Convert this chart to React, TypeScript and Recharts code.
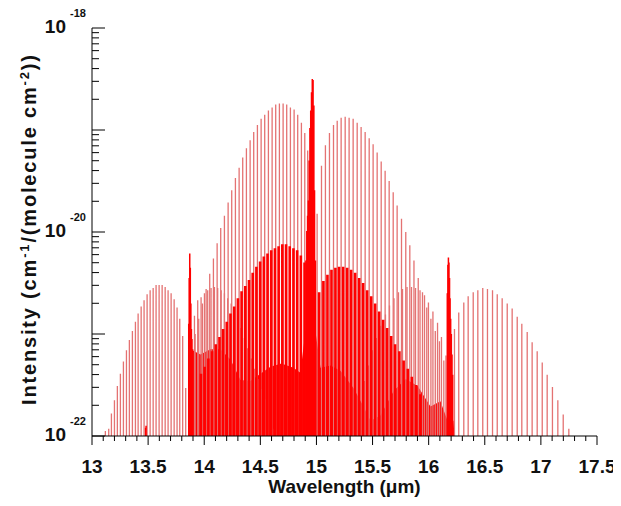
import React from 'react';
import { ComposedChart, Line, Area, XAxis, YAxis, Label } from 'recharts';

// every line is [wavelength in µm, log10 of intensity]
const mainR: [number, number][] = [
  [13.919, -21.0], [13.951, -20.85], [13.984, -20.7], [14.017, -20.56], [14.049, -20.41], [14.082, -20.26],
  [14.115, -20.11], [14.147, -19.96], [14.18, -19.84], [14.213, -19.71], [14.245, -19.59], [14.278, -19.47],
  [14.311, -19.37], [14.343, -19.27], [14.376, -19.18], [14.409, -19.1], [14.441, -19.02], [14.474, -18.95],
  [14.507, -18.89], [14.539, -18.85], [14.572, -18.81], [14.605, -18.78], [14.637, -18.75], [14.67, -18.74],
  [14.703, -18.74], [14.735, -18.75], [14.768, -18.78], [14.801, -18.8], [14.833, -18.85], [14.866, -18.93],
  [14.896, -19.03], [14.922, -19.2],
];

const mainQ: [number, number][] = [
  [14.906, -20.28], [14.914, -19.99], [14.921, -19.84], [14.928, -19.69], [14.935, -19.3], [14.942, -18.98],
  [14.949, -18.81], [14.956, -18.63], [14.963, -18.5], [14.97, -18.51], [14.977, -18.76], [14.983, -19.59],
  [14.991, -20.28],
];

const mainP: [number, number][] = [
  [15.006, -19.82], [15.045, -19.35], [15.08, -19.15], [15.116, -19.03], [15.152, -18.95], [15.185, -18.91],
  [15.22, -18.88], [15.256, -18.87], [15.291, -18.88], [15.327, -18.89], [15.363, -18.93], [15.398, -18.97],
  [15.434, -19.02], [15.47, -19.08], [15.505, -19.14], [15.541, -19.22], [15.577, -19.31], [15.612, -19.4],
  [15.648, -19.5], [15.684, -19.61], [15.719, -19.74], [15.758, -19.87], [15.796, -20.0], [15.832, -20.13],
  [15.869, -20.28], [15.907, -20.45], [15.945, -20.59], [15.983, -20.74], [16.02, -20.85], [16.059, -20.97],
  [16.096, -21.07], [16.135, -21.26],
];

const hot1R: [number, number][] = [
  [13.119, -21.95], [13.149, -21.93], [13.173, -21.78], [13.2, -21.65], [13.226, -21.51], [13.253, -21.39],
  [13.28, -21.27], [13.307, -21.16], [13.333, -21.06], [13.36, -20.97], [13.387, -20.88], [13.411, -20.8],
  [13.438, -20.73], [13.464, -20.67], [13.491, -20.61], [13.518, -20.57], [13.545, -20.55], [13.571, -20.52],
  [13.598, -20.52], [13.625, -20.52], [13.652, -20.54], [13.678, -20.57], [13.705, -20.6], [13.732, -20.66],
  [13.758, -20.74], [13.782, -20.85], [13.808, -21.02], [13.835, -21.53],
];

const hot1Q: [number, number][] = [
  [13.478, -21.92], [13.482, -21.9],
  [13.862, -20.9], [13.866, -20.45], [13.871, -20.21], [13.876, -20.35], [13.881, -20.7], [13.886, -20.95],
  [13.891, -21.05], [13.897, -21.15],
];

const hot1P: [number, number][] = [
  [13.913, -20.82], [13.942, -20.67], [13.972, -20.64], [14.002, -20.6], [14.031, -20.57], [14.061, -20.55],
  [14.091, -20.54], [14.12, -20.55], [14.151, -20.57], [14.18, -20.6], [14.209, -20.65], [14.24, -20.7],
  [14.269, -20.77], [14.299, -20.84], [14.329, -20.94], [14.358, -21.04], [14.388, -21.14], [14.418, -21.24],
  [14.447, -21.34], [14.477, -21.44], [14.507, -21.54], [14.537, -21.64], [14.566, -21.73], [14.596, -21.83],
  [14.626, -21.93],
];

const hot2R: [number, number][] = [
  [15.428, -21.46], [15.464, -21.31], [15.499, -21.16], [15.535, -21.04], [15.575, -20.92], [15.615, -20.81],
  [15.651, -20.72], [15.691, -20.65], [15.731, -20.59], [15.767, -20.56], [15.807, -20.54], [15.847, -20.54],
  [15.883, -20.55], [15.923, -20.57], [15.963, -20.62], [15.998, -20.69], [16.038, -20.78], [16.079, -20.89],
  [16.114, -21.03], [16.154, -21.21],
];

const hot2Q: [number, number][] = [
  [16.166, -20.6], [16.171, -20.32], [16.176, -20.25], [16.181, -20.3], [16.186, -20.45], [16.191, -20.65],
  [16.196, -20.85], [16.202, -21.0], [16.208, -21.2], [16.214, -21.4],
];

const hot2P: [number, number][] = [
  [16.23, -20.95], [16.268, -20.79], [16.313, -20.69], [16.352, -20.63], [16.397, -20.59], [16.438, -20.57],
  [16.482, -20.55], [16.524, -20.56], [16.569, -20.57], [16.611, -20.61], [16.655, -20.65], [16.7, -20.7],
  [16.744, -20.75], [16.789, -20.83], [16.83, -20.9], [16.878, -20.98], [16.922, -21.08], [16.967, -21.17],
  [17.012, -21.28], [17.056, -21.4], [17.103, -21.52], [17.151, -21.65], [17.199, -21.79], [17.249, -21.93],
];

const band3R: [number, number][] = [
  [13.971, -21.39], [14.004, -21.32], [14.037, -21.24], [14.07, -21.17], [14.103, -21.1], [14.136, -21.03],
  [14.168, -20.95], [14.201, -20.88], [14.234, -20.8], [14.267, -20.73], [14.3, -20.65], [14.333, -20.58],
  [14.366, -20.53], [14.399, -20.47], [14.432, -20.4], [14.465, -20.34], [14.498, -20.29], [14.531, -20.24],
  [14.564, -20.21], [14.597, -20.18], [14.63, -20.16], [14.663, -20.14], [14.696, -20.12], [14.729, -20.12],
  [14.762, -20.14], [14.795, -20.16], [14.828, -20.18], [14.861, -20.23], [14.894, -20.3],
];

const band3P: [number, number][] = [
  [15.024, -20.59], [15.062, -20.48], [15.098, -20.42], [15.134, -20.37], [15.169, -20.35], [15.202, -20.34],
  [15.238, -20.34], [15.274, -20.35], [15.309, -20.37], [15.345, -20.4], [15.381, -20.45], [15.416, -20.5],
  [15.452, -20.57], [15.488, -20.63], [15.523, -20.7], [15.559, -20.78], [15.594, -20.86], [15.63, -20.94],
  [15.666, -21.02], [15.701, -21.1], [15.739, -21.17], [15.777, -21.26], [15.814, -21.34], [15.85, -21.42],
  [15.889, -21.5], [15.926, -21.59],
];

// outline of the solid red block of weak, crowded lines
const denseCore: [number, number][] = [
  [13.886, -22.0], [13.895, -21.16], [13.966, -21.2], [14.055, -21.15], [14.144, -21.15], [14.234, -21.25],
  [14.323, -21.45], [14.412, -21.46], [14.501, -21.39], [14.59, -21.32], [14.688, -21.29], [14.795, -21.33],
  [14.857, -21.38], [14.902, -20.97], [14.991, -20.97], [15.036, -21.33], [15.125, -21.31], [15.214, -21.36],
  [15.33, -21.53], [15.419, -21.71], [15.482, -21.85], [15.571, -21.8], [15.688, -21.56], [15.795, -21.44],
  [15.902, -21.51], [16.016, -21.71], [16.105, -21.66], [16.168, -21.85], [16.221, -21.85], [16.23, -22.0],
];

const xMajorTicks = [13, 13.5, 14, 14.5, 15, 15.5, 16, 16.5, 17, 17.5];
const xMinorSteps = [0.1, 0.2, 0.3, 0.4];
const yDecades = [-22, -21, -20, -19];
const yMantissas = [1, 2, 3, 4, 5, 6, 7, 8, 9];
const yLabelled = [-18, -20, -22];

const BASE = 1e-23;
const FONT = 'Liberation Sans, Arial, Helvetica, sans-serif';
const PINK = '#e47272';
const RED = '#ff0000';

const xTicks = xMajorTicks.flatMap((m) => (m < 17.5 ? [m, ...xMinorSteps.map((s) => +(m + s).toFixed(1))] : [m]));
const yTicks = [...yDecades.flatMap((d) => yMantissas.map((m) => m * 10 ** d)), 1e-18];

const sticks = (lines: [number, number][]) =>
  lines.flatMap(([x, e]) => [
    { x, y: BASE },
    { x, y: 10 ** e },
    { x, y: BASE },
  ]);

const outline = (pts: [number, number][]) => pts.map(([x, e]) => ({ x, y: 10 ** e }));

const isMajorX = (v: number) => xMajorTicks.some((m) => Math.abs(m - v) < 1e-6);
const expOf = (v: number) => Math.log10(v);
const isDecade = (v: number) => Math.abs(expOf(v) - Math.round(expOf(v))) < 1e-6;

const BottomTick = ({ x, y, payload }: any) => {
  const major = isMajorX(payload.value);
  return (
    <g>
      <line x1={x} x2={x} y1={y} y2={y + (major ? 9 : 5)} stroke="#000" />
      {major && (
        <text x={x} y={y + 37} textAnchor="middle" fontFamily={FONT} fontWeight="bold" fontSize={19} fill="#111">
          {String(payload.value)}
        </text>
      )}
    </g>
  );
};

const TopTick = ({ x, y, payload }: any) => {
  const major = isMajorX(payload.value);
  return <line x1={x} x2={x} y1={y} y2={y + (major ? 9 : 5)} stroke="#000" />;
};

const LeftTick = ({ x, y, payload }: any) => {
  const major = isDecade(payload.value);
  const exp = Math.round(expOf(payload.value));
  const labelled = major && yLabelled.includes(exp);
  return (
    <g>
      <line x1={x} x2={x + (major ? 13 : 7)} y1={y} y2={y} stroke="#000" />
      {labelled && (
        <text x={x - 26} y={y + 5} textAnchor="end" fontFamily={FONT} fontWeight="bold" fontSize={19} fill="#111">
          10
        </text>
      )}
      {labelled && (
        <text x={x - 22} y={y - 11} textAnchor="start" fontFamily={FONT} fontWeight="bold" fontSize={11} fill="#111">
          {String(exp)}
        </text>
      )}
    </g>
  );
};

const RightTick = ({ x, y, payload }: any) => {
  const major = isDecade(payload.value);
  return <line x1={x} x2={x - (major ? 13 : 7)} y1={y} y2={y} stroke="#000" />;
};

const XTitle = ({ viewBox }: any) => (
  <text
    x={viewBox.x + viewBox.width / 2}
    y={viewBox.y + 57}
    textAnchor="middle"
    fontFamily={FONT}
    fontWeight="bold"
    fontSize={19}
    fill="#111"
  >
    Wavelength (μm)
  </text>
);

const YTitle = ({ viewBox }: any) => {
  const cx = 28;
  const cy = viewBox.y + viewBox.height / 2 - 2;
  return (
    <text
      x={cx}
      y={cy}
      transform={`rotate(-90, ${cx}, ${cy})`}
      textAnchor="middle"
      textLength={350}
      lengthAdjust="spacing"
      fontFamily={FONT}
      fontWeight="bold"
      fontSize={20}
      fill="#111"
    >
      Intensity (cm
      <tspan dy={-7} fontSize={13}>-1</tspan>
      <tspan dy={7}>/(molecule cm</tspan>
      <tspan dy={-7} fontSize={13}>-2</tspan>
      <tspan dy={7}>))</tspan>
    </text>
  );
};

const stickSeries = [
  { key: 'hot1R', lines: hot1R, color: PINK, width: 1.3, opacity: 1 },
  { key: 'hot1P', lines: hot1P, color: PINK, width: 1.3, opacity: 1 },
  { key: 'hot2R', lines: hot2R, color: PINK, width: 1.3, opacity: 1 },
  { key: 'hot2P', lines: hot2P, color: PINK, width: 1.3, opacity: 1 },
  { key: 'mainR', lines: mainR, color: PINK, width: 1.3, opacity: 1 },
  { key: 'mainP', lines: mainP, color: PINK, width: 1.3, opacity: 1 },
  { key: 'band3R', lines: band3R, color: RED, width: 2.6, opacity: 1 },
  { key: 'band3P', lines: band3P, color: RED, width: 2.6, opacity: 1 },
  { key: 'hot1Q', lines: hot1Q, color: RED, width: 1.5, opacity: 1 },
  { key: 'hot2Q', lines: hot2Q, color: RED, width: 1.5, opacity: 1 },
  { key: 'mainQ', lines: mainQ, color: RED, width: 1.5, opacity: 1 },
];

export default function App() {
  return (
    <ComposedChart
      width={613}
      height={490}
      margin={{ top: 20, right: 24, bottom: 0, left: 0 }}
      style={{ fontFamily: FONT }}
    >
      <XAxis
        dataKey="x"
        type="number"
        domain={[13, 17.5]}
        allowDataOverflow
        ticks={xTicks}
        interval={0}
        tickSize={0}
        tickMargin={0}
        tickLine={false}
        tick={(p: any) => <BottomTick {...p} />}
        axisLine={{ stroke: '#000' }}
        height={62}
      >
        <Label content={XTitle} />
      </XAxis>
      <XAxis
        xAxisId="top"
        orientation="top"
        dataKey="x"
        type="number"
        domain={[13, 17.5]}
        allowDataOverflow
        ticks={xTicks}
        interval={0}
        tickSize={0}
        tickMargin={0}
        tickLine={false}
        tick={(p: any) => <TopTick {...p} />}
        axisLine={{ stroke: '#000' }}
        height={0}
      />
      <YAxis
        type="number"
        scale="log"
        domain={[1e-22, 1e-18]}
        allowDataOverflow
        ticks={yTicks}
        interval={0}
        tickSize={0}
        tickMargin={0}
        tickLine={false}
        tick={(p: any) => <LeftTick {...p} />}
        axisLine={{ stroke: '#000' }}
        width={84}
      >
        <Label content={YTitle} />
      </YAxis>
      <YAxis
        yAxisId="right"
        orientation="right"
        type="number"
        scale="log"
        domain={[1e-22, 1e-18]}
        allowDataOverflow
        ticks={yTicks}
        interval={0}
        tickSize={0}
        tickMargin={0}
        tickLine={false}
        tick={(p: any) => <RightTick {...p} />}
        axisLine={{ stroke: '#000' }}
        width={0}
      />
      <Area
        data={outline(denseCore)}
        dataKey="y"
        type="linear"
        baseValue={BASE}
        fill={RED}
        fillOpacity={1}
        stroke="none"
        isAnimationActive={false}
        activeDot={false}
      />
      {stickSeries.map((s) => (
        <Line
          key={s.key}
          data={sticks(s.lines)}
          dataKey="y"
          type="linear"
          stroke={s.color}
          strokeWidth={s.width}
          strokeOpacity={s.opacity}
          dot={false}
          activeDot={false}
          isAnimationActive={false}
        />
      ))}
    </ComposedChart>
  );
}
